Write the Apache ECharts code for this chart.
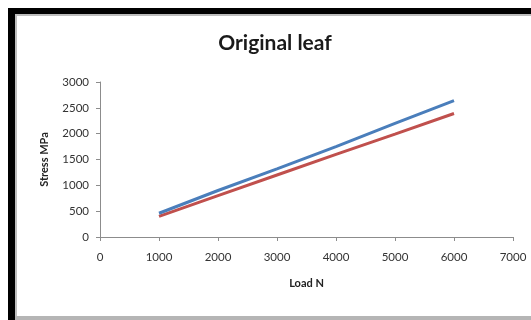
<!DOCTYPE html>
<html>
<head>
<meta charset="utf-8">
<script src="https://cdn.jsdelivr.net/npm/echarts@6/dist/echarts.min.js"></script>
<style>
  html, body { margin: 0; padding: 0; background: #fff; }
  #chart { width: 531px; height: 320px; }
</style>
</head>
<body>
<div id="chart"></div>
<script>
// Load (N) at which stress was evaluated
const loads = [1000, 2000, 3000, 4000, 5000, 6000];
// Stress (MPa) for the two cases
const stressBlue = [460, 900, 1320, 1750, 2200, 2640];
const stressRed = [400, 800, 1200, 1600, 1990, 2390];
const xTicks = [0, 1000, 2000, 3000, 4000, 5000, 6000, 7000];
const yTicks = [0, 500, 1000, 1500, 2000, 2500, 3000];

const labelFont = 'Lato, "Open Sans", sans-serif';
const plain = v => String(v);

const chart = echarts.init(document.getElementById('chart'), null, { renderer: 'canvas' });

chart.setOption({
  animation: false,
  backgroundColor: '#ffffff',
  title: {
    text: 'Original leaf',
    left: 270,
    textAlign: 'center',
    top: 28,
    textStyle: { fontFamily: labelFont, fontSize: 21, fontWeight: 'bold', color: '#1a1a1a' }
  },
  grid: { left: 100, right: 18, top: 82, bottom: 83 },
  xAxis: {
    type: 'value',
    min: xTicks[0],
    max: xTicks[xTicks.length - 1],
    interval: 1000,
    name: 'Load N',
    nameLocation: 'middle',
    nameGap: 41,
    nameTextStyle: { fontFamily: labelFont, fontSize: 11, fontWeight: 'bold', color: '#222' },
    axisLine: { show: true, lineStyle: { color: '#8c8c8c', width: 1 } },
    axisTick: { show: true, length: 4, lineStyle: { color: '#8c8c8c' } },
    axisLabel: { margin: 14, fontFamily: labelFont, fontSize: 11.5, color: '#333', formatter: plain },
    splitLine: { show: false }
  },
  yAxis: {
    type: 'value',
    min: yTicks[0],
    max: yTicks[yTicks.length - 1],
    interval: 500,
    name: 'Stress MPa',
    nameLocation: 'middle',
    nameGap: 50,
    nameRotate: 90,
    nameTextStyle: { fontFamily: labelFont, fontSize: 11, fontWeight: 'bold', color: '#222' },
    axisLine: { show: true, lineStyle: { color: '#8c8c8c', width: 1 } },
    axisTick: { show: true, length: 4, lineStyle: { color: '#8c8c8c' } },
    axisLabel: { margin: 11, fontFamily: labelFont, fontSize: 11.5, color: '#333', formatter: plain },
    splitLine: { show: false }
  },
  series: [
    {
      type: 'line',
      data: loads.map((x, i) => [x, stressRed[i]]),
      showSymbol: false,
      lineStyle: { color: '#c0504d', width: 3 },
      itemStyle: { color: '#c0504d' },
      z: 2
    },
    {
      type: 'line',
      data: loads.map((x, i) => [x, stressBlue[i]]),
      showSymbol: false,
      lineStyle: { color: '#4a7ebb', width: 3 },
      itemStyle: { color: '#4a7ebb' },
      z: 3
    }
  ],
  graphic: [
    // dark frame on the left and top, light rule along the bottom
    { type: 'rect', shape: { x: 8, y: 8, width: 7, height: 312 }, style: { fill: '#000' }, silent: true },
    { type: 'rect', shape: { x: 8, y: 8, width: 523, height: 6 }, style: { fill: '#000' }, silent: true },
    { type: 'rect', shape: { x: 15, y: 14, width: 516, height: 2 }, style: { fill: '#bdbdbd' }, silent: true },
    { type: 'rect', shape: { x: 15, y: 14, width: 2, height: 306 }, style: { fill: '#bdbdbd' }, silent: true },
    { type: 'rect', shape: { x: 15, y: 316, width: 516, height: 4 }, style: { fill: '#b5b5b5' }, silent: true }
  ]
});
</script>
</body>
</html>
